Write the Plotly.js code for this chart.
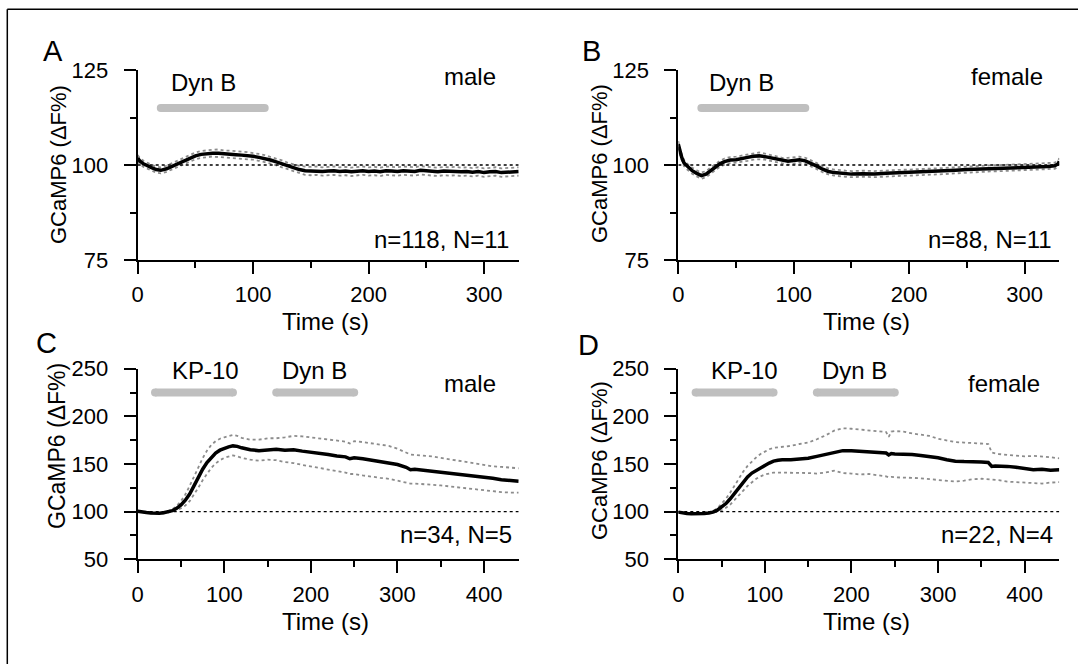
<!DOCTYPE html>
<html>
<head>
<meta charset="utf-8">
<script src="https://cdn.plot.ly/plotly-3.0.1.min.js"></script>
<style>html,body{margin:0;padding:0;background:#fff;}#chart{width:1078px;height:664px;}</style>
</head>
<body>
<div id="chart"></div>
<script>
// ---------- Panel A (male, Dyn B) ----------
const tA = [0,2,5,8,12,16,20,25,30,35,40,45,50,55,60,65,70,75,80,85,90,95,100,105,110,115,120,125,130,135,140,145,150,155,160,165,170,175,180,185,190,195,200,205,210,215,220,225,230,235,240,245,250,255,260,265,270,275,280,285,290,295,300,305,310,315,320,325,330];
const meanA = [101.8,101.0,100.3,99.8,99.3,98.8,98.6,99.0,99.7,100.5,101.2,101.9,102.4,102.8,103.0,103.1,103.1,102.9,102.9,102.7,102.6,102.5,102.3,102.0,101.7,101.3,100.8,100.3,99.7,99.2,98.8,98.5,98.4,98.5,98.3,98.4,98.5,98.3,98.4,98.2,98.4,98.5,98.3,98.4,98.2,98.5,98.4,98.3,98.5,98.4,98.3,98.6,98.4,98.3,98.2,98.4,98.3,98.4,98.2,98.3,98.1,98.3,98.0,98.2,98.3,98.0,98.1,98.2,98.3];
const upperA = [102.6,101.8,101.1,100.6,100.1,99.6,99.4,99.8,100.5,101.4,102.1,102.8,103.3,103.7,103.9,104.0,104.1,103.8,103.8,103.6,103.5,103.4,103.2,102.9,102.6,102.2,101.7,101.2,100.6,100.1,99.8,99.6,99.5,99.6,99.4,99.5,99.6,99.4,99.5,99.3,99.5,99.6,99.4,99.5,99.3,99.6,99.5,99.4,99.6,99.5,99.4,99.7,99.5,99.4,99.3,99.5,99.4,99.5,99.3,99.4,99.2,99.4,99.1,99.3,99.4,99.1,99.2,99.3,99.4];
const lowerA = [101.0,100.2,99.5,99.0,98.5,98.0,97.8,98.2,98.9,99.6,100.3,101.0,101.5,101.9,102.1,102.2,102.1,102.0,101.9,101.8,101.7,101.6,101.4,101.1,100.8,100.4,99.9,99.4,98.8,98.3,97.8,97.4,97.3,97.4,97.2,97.3,97.4,97.2,97.3,97.1,97.3,97.4,97.2,97.3,97.1,97.4,97.3,97.2,97.4,97.3,97.2,97.5,97.3,97.2,97.1,97.3,97.2,97.3,97.1,97.2,97.0,97.2,96.9,97.1,97.2,96.9,97.0,97.1,97.2];

// ---------- Panel B (female, Dyn B) ----------
const tB = [0,1,3,5,8,12,16,20,24,28,32,36,40,45,50,55,60,65,70,75,80,85,90,95,100,105,110,115,120,125,130,135,140,145,150,160,170,180,190,200,210,220,230,240,250,260,270,280,290,300,310,320,326,329,330];
const meanB = [105.5,104.0,102.0,100.5,99.5,98.5,97.8,97.2,97.6,98.5,99.4,100.3,100.9,101.3,101.4,101.6,102.0,102.3,102.4,102.2,101.9,101.4,101.1,101.0,101.2,101.4,101.1,100.5,99.7,98.9,98.3,98.0,97.8,97.7,97.6,97.7,97.6,97.8,97.9,98.0,98.1,98.3,98.4,98.6,98.8,98.9,99.1,99.2,99.3,99.4,99.5,99.6,99.8,100.3,101.0];
const upperB = [106.3,104.8,102.8,101.3,100.3,99.3,98.6,98.0,98.4,99.3,100.2,101.1,101.7,102.1,102.2,102.5,102.9,103.2,103.3,103.0,102.7,102.2,101.9,101.9,102.1,102.2,101.9,101.3,100.5,99.7,99.1,98.8,98.6,98.5,98.4,98.5,98.4,98.6,98.7,98.8,98.9,99.1,99.2,99.4,99.6,99.7,99.9,100.0,100.1,100.2,100.3,100.4,100.6,101.1,101.8];
const lowerB = [104.7,103.2,101.2,99.7,98.7,97.7,97.0,96.4,96.8,97.7,98.6,99.5,100.1,100.5,100.6,100.8,101.1,101.4,101.5,101.4,101.1,100.6,100.3,100.1,100.3,100.6,100.3,99.7,98.9,98.1,97.5,97.2,97.0,96.9,96.8,96.9,96.8,97.0,97.1,97.2,97.3,97.5,97.6,97.8,98.0,98.1,98.3,98.4,98.5,98.6,98.7,98.8,99.0,99.5,100.2];

// ---------- Panel C (male, KP-10 then Dyn B) ----------
const tC = [0,5,10,15,20,25,30,35,40,45,50,55,60,65,70,75,80,85,90,95,100,105,110,115,120,130,140,150,160,170,180,190,200,210,220,230,240,245,250,260,270,280,290,300,310,315,320,330,340,350,360,370,380,390,400,410,420,430,440];
const meanC = [100.5,99.5,99.0,98.6,98.3,98.4,98.8,99.6,101.0,103.5,107.0,112.0,118.5,127.0,136.0,144.5,151.5,157.0,161.5,164.5,166.5,168.0,169.0,168.5,167.0,165.0,164.0,165.0,165.5,164.5,165.0,163.5,162.5,161.0,160.0,158.5,157.5,155.5,156.5,155.5,154.0,152.5,151.0,149.5,146.5,144.0,144.5,143.5,142.5,141.5,140.5,139.5,138.5,137.5,136.0,135.0,133.5,132.5,132.0];
const upperC = [100.5,99.5,99.0,98.6,98.3,98.5,99.2,100.3,102.5,106.0,111.0,118.0,127.0,137.0,147.0,156.0,164.0,170.0,174.0,176.5,178.0,179.5,180.5,179.5,177.5,175.5,175.5,177.0,177.0,178.0,179.5,179.0,178.0,177.0,176.0,175.0,173.5,171.5,174.0,173.0,171.5,170.5,169.0,166.0,162.5,160.0,159.5,159.0,158.0,156.5,155.0,153.5,152.0,150.5,149.0,147.5,147.0,146.5,145.5];
const lowerC = [100.0,99.3,98.8,98.3,98.0,98.0,98.3,98.9,99.8,101.5,103.5,106.5,111.0,117.5,125.0,133.0,140.0,146.0,150.5,154.0,156.5,158.0,159.0,158.0,156.5,154.5,153.5,154.5,154.0,152.0,151.0,149.0,147.5,145.5,144.0,142.5,141.0,139.5,139.5,138.0,136.5,135.5,134.5,132.5,130.0,129.5,129.5,129.0,128.0,127.5,126.5,125.5,124.0,123.0,122.5,121.5,120.5,120.0,120.0];

// ---------- Panel D (female, KP-10 then Dyn B) ----------
const tD = [0,5,10,15,20,25,30,35,40,45,50,55,60,65,70,75,80,85,90,95,100,105,110,115,120,130,140,150,160,170,180,190,200,210,220,230,240,243,246,250,260,270,280,290,300,310,320,330,340,350,358,362,366,370,380,390,400,410,420,430,440];
const meanD = [99.5,98.5,98.0,97.8,97.6,97.7,98.0,98.6,99.5,101.5,104.5,108.5,113.5,119.5,125.5,131.5,136.5,140.5,143.5,146.5,148.5,151.0,153.0,154.0,154.5,154.5,155.0,156.0,158.0,160.0,162.0,164.0,164.0,163.5,163.0,162.0,161.5,159.5,161.0,160.5,160.5,160.0,159.0,158.0,156.5,154.5,153.0,152.5,152.5,152.0,151.5,147.5,148.0,148.0,147.5,146.5,145.0,144.0,144.5,143.5,144.0];
const upperD = [99.5,98.5,98.0,97.8,97.6,97.8,98.3,99.2,100.5,103.5,108.0,113.5,120.0,127.5,135.0,142.0,148.0,153.0,157.0,160.5,163.0,165.5,167.0,167.5,168.0,169.0,171.0,172.5,176.0,180.0,185.0,187.5,187.0,186.0,185.0,184.0,183.5,178.5,184.0,184.5,184.0,182.0,181.0,179.5,176.5,174.5,173.0,172.5,172.0,171.5,171.0,162.0,161.0,160.5,159.5,158.5,158.0,158.5,158.0,157.0,156.0];
const lowerD = [99.5,98.3,97.8,97.5,97.3,97.3,97.6,98.0,98.6,99.8,101.5,104.0,107.5,112.0,117.0,122.0,127.0,131.0,134.5,137.0,139.0,140.0,141.0,141.0,141.0,140.5,141.0,140.5,140.0,141.0,143.0,140.5,140.0,139.0,139.5,138.5,137.0,136.0,136.5,136.0,136.0,135.5,135.0,134.0,133.5,132.5,131.5,132.5,134.0,134.5,134.0,133.5,133.5,133.0,131.5,131.0,130.5,130.0,129.5,130.5,131.0];

// ---------- Application bars, baselines, ranges, labels ----------
const baselineValue = 100;
const rangeTop = [0, 330];     // panels A, B x range (s)
const rangeBottom = [0, 440];  // panels C, D x range (s)
const yRangeTop = [75, 125];
const yRangeBottom = [50, 250];
const barDynTop = {x: [20, 110], y: 115};
const barKP = {x: [20, 110], y: 225};
const barDynBottom = {x: [160, 250], y: 225};
const panelLetters = ['A', 'B', 'C', 'D'];
const sexLabels = ['male', 'female', 'male', 'female'];
const countLabels = ['n=118, N=11', 'n=88, N=11', 'n=34, N=5', 'n=22, N=4'];
const xTitle = 'Time (s)';
const yTitle = 'GCaMP6 (ΔF%)';

const W = 1078, H = 664;
const px = v => v / W;
const py = v => 1 - v / H;
const FONT = 'Liberation Sans, Arial, Helvetica, sans-serif';
const MEAN_COLOR = '#000000';
const SEM_COLOR = '#8c8c8c';
const BAR_COLOR = '#bfbfbf';

const traces = [];
function addPanel(t, mean, up, lo, xa, ya, xr) {
  traces.push({x: t, y: up, xaxis: xa, yaxis: ya, type: 'scatter', mode: 'lines',
    line: {color: SEM_COLOR, width: 1.8, dash: 'dot'}, hoverinfo: 'skip', showlegend: false});
  traces.push({x: t, y: lo, xaxis: xa, yaxis: ya, type: 'scatter', mode: 'lines',
    line: {color: SEM_COLOR, width: 1.8, dash: 'dot'}, hoverinfo: 'skip', showlegend: false});
  traces.push({x: xr, y: [baselineValue, baselineValue], xaxis: xa, yaxis: ya, type: 'scatter', mode: 'lines',
    line: {color: '#000', width: 1.3, dash: 'dot'}, hoverinfo: 'skip', showlegend: false});
  traces.push({x: t, y: mean, xaxis: xa, yaxis: ya, type: 'scatter', mode: 'lines',
    line: {color: MEAN_COLOR, width: 3.5}, showlegend: false});
}
function addBar(bar, xa, ya) {
  traces.push({x: bar.x, y: [bar.y, bar.y], xaxis: xa, yaxis: ya, type: 'scatter', mode: 'lines+markers',
    line: {color: BAR_COLOR, width: 8}, marker: {color: BAR_COLOR, size: 8, line: {width: 0}},
    hoverinfo: 'skip', showlegend: false, cliponaxis: false});
}
addPanel(tA, meanA, upperA, lowerA, 'x', 'y', rangeTop);
addPanel(tB, meanB, upperB, lowerB, 'x2', 'y2', rangeTop);
addPanel(tC, meanC, upperC, lowerC, 'x3', 'y3', rangeBottom);
addPanel(tD, meanD, upperD, lowerD, 'x4', 'y4', rangeBottom);
addBar(barDynTop, 'x', 'y');
addBar(barDynTop, 'x2', 'y2');
addBar(barKP, 'x3', 'y3');
addBar(barDynBottom, 'x3', 'y3');
addBar(barKP, 'x4', 'y4');
addBar(barDynBottom, 'x4', 'y4');

function xAxis(dom, anchor, range) {
  return {domain: dom, anchor: anchor, range: range, dtick: 100, tick0: 0,
    showline: true, linewidth: 2, linecolor: '#000', mirror: false,
    ticks: 'outside', ticklen: 12, tickwidth: 2, tickcolor: '#000',
    minor: {ticks: 'outside', dtick: 50, ticklen: 6, tickwidth: 2, tickcolor: '#000', showgrid: false},
    showgrid: false, zeroline: false, ticklabelstandoff: 2,
    tickfont: {family: FONT, size: 22, color: '#000'}, fixedrange: true};
}
function yAxis(dom, anchor, range, dt) {
  return {domain: dom, anchor: anchor, range: range, dtick: dt, tick0: range[0],
    showline: true, linewidth: 2, linecolor: '#000',
    ticks: 'outside', ticklen: 12, tickwidth: 2, tickcolor: '#000',
    minor: {ticks: 'outside', dtick: dt / 2, ticklen: 6, tickwidth: 2, tickcolor: '#000', showgrid: false},
    showgrid: false, zeroline: false, ticklabelstandoff: 11,
    tickfont: {family: FONT, size: 22, color: '#000'}, fixedrange: true};
}
const domA = [px(137.7), px(518.7)];
const domB = [px(678.3), px(1059.3)];
const domTop = [py(260), py(70)];
const domBot = [py(559.3), py(368.7)];

const ann = [];
function txt(text, x, y, xref, yref, size, opts) {
  ann.push(Object.assign({text: text, x: x, y: y, xref: xref, yref: yref, showarrow: false,
    font: {family: FONT, size: size, color: '#000'}, xanchor: 'center', yanchor: 'middle'}, opts || {}));
}
// panel letters
txt(panelLetters[0], px(53), py(51), 'paper', 'paper', 29);
txt(panelLetters[1], px(591), py(51), 'paper', 'paper', 29);
txt(panelLetters[2], px(47), py(343), 'paper', 'paper', 29);
txt(panelLetters[3], px(588), py(345), 'paper', 'paper', 29);
// y titles
txt(yTitle, px(58), py(165), 'paper', 'paper', 22, {textangle: -90});
txt(yTitle, px(600), py(164), 'paper', 'paper', 22, {textangle: -90});
txt(yTitle, px(57), py(446), 'paper', 'paper', 23, {textangle: -90});
txt(yTitle, px(599), py(461), 'paper', 'paper', 22, {textangle: -90});
// x titles
txt(xTitle, px(325), py(321), 'paper', 'paper', 24);
txt(xTitle, px(866), py(321), 'paper', 'paper', 24);
txt(xTitle, px(325), py(621), 'paper', 'paper', 24);
txt(xTitle, px(866), py(621), 'paper', 'paper', 24);
// drug labels
txt('Dyn B', 57, 121.7, 'x', 'y', 24);
txt('Dyn B', 55, 121.7, 'x2', 'y2', 24);
txt('KP-10', 78, 248.5, 'x3', 'y3', 24);
txt('Dyn B', 204, 248.5, 'x3', 'y3', 24);
txt('KP-10', 76, 248.5, 'x4', 'y4', 24);
txt('Dyn B', 204, 248.5, 'x4', 'y4', 24);
// sex labels
txt(sexLabels[0], 288, 123.2, 'x', 'y', 24);
txt(sexLabels[1], 285, 123.2, 'x2', 'y2', 24);
txt(sexLabels[2], 384, 235, 'x3', 'y3', 24);
txt(sexLabels[3], 376, 235, 'x4', 'y4', 24);
// counts
txt(countLabels[0], 323, 80.3, 'x', 'y', 24, {xanchor: 'right'});
txt(countLabels[1], 325, 80.3, 'x2', 'y2', 24, {xanchor: 'right'});
txt(countLabels[2], 434, 76, 'x3', 'y3', 24, {xanchor: 'right'});
txt(countLabels[3], 435, 76.5, 'x4', 'y4', 24, {xanchor: 'right'});

const layout = {
  width: W, height: H, margin: {l: 0, r: 0, t: 0, b: 0},
  paper_bgcolor: '#fff', plot_bgcolor: 'rgba(0,0,0,0)',
  font: {family: FONT, color: '#000'},
  showlegend: false,
  xaxis: xAxis(domA, 'y', rangeTop),
  yaxis: yAxis(domTop, 'x', yRangeTop, 25),
  xaxis2: xAxis(domB, 'y2', rangeTop),
  yaxis2: yAxis(domTop, 'x2', yRangeTop, 25),
  xaxis3: xAxis(domA, 'y3', rangeBottom),
  yaxis3: yAxis(domBot, 'x3', yRangeBottom, 50),
  xaxis4: xAxis(domB, 'y4', rangeBottom),
  yaxis4: yAxis(domBot, 'x4', yRangeBottom, 50),
  annotations: ann,
  shapes: [
    {type: 'line', xref: 'paper', yref: 'paper', x0: px(7.3), x1: 1, y0: py(9.3), y1: py(9.3), line: {color: '#000', width: 1.5}},
    {type: 'line', xref: 'paper', yref: 'paper', x0: px(7.3), x1: px(7.3), y0: py(9.3), y1: 0, line: {color: '#000', width: 1.5}}
  ]
};
Plotly.newPlot('chart', traces, layout, {displayModeBar: false, staticPlot: true});
</script>
</body>
</html>
